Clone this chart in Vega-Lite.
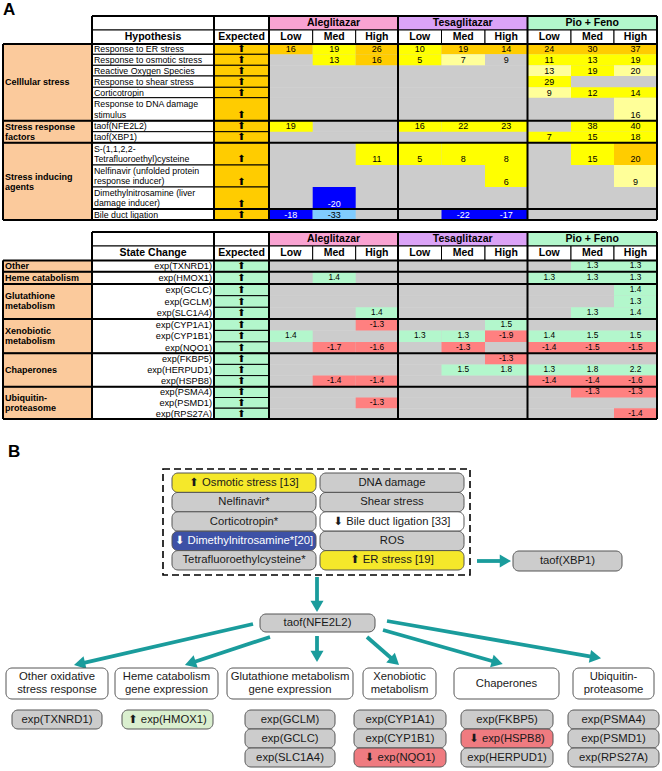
{
"$schema": "https://vega.github.io/schema/vega-lite/v6.json",
"width": 662, "height": 771,
"autosize": {"type": "fit", "contains": "padding"},
"padding": 0,
"background": "white",
"config": {"view": {"stroke": null}},
"datasets": {
"tbl": [
{"t":1,"gx0":3,"gx1":92,"hx0":92,"hx1":214,"ex0":214,"ex1":269,"exm":241.5,"dx0":269,"dx1":657},
{"t":2,"gx0":3,"gx1":92,"hx0":92,"hx1":214,"ex0":214,"ex1":269,"exm":241.5,"dx0":269,"dx1":657}
],
"cols": [
{"c":"AL","x0":269,"x1":312.7,"xm":290.85},
{"c":"AM","x0":312.7,"x1":355.7,"xm":334.2},
{"c":"AH","x0":355.7,"x1":398,"xm":376.85},
{"c":"TL","x0":398,"x1":441.5,"xm":419.75},
{"c":"TM","x0":441.5,"x1":485,"xm":463.25},
{"c":"TH","x0":485,"x1":527.5,"xm":506.25},
{"c":"PL","x0":527.5,"x1":571,"xm":549.25},
{"c":"PM","x0":571,"x1":614,"xm":592.5},
{"c":"PH","x0":614,"x1":657,"xm":635.5}
],
"rows": [
{"r":"ER","t":1,"y0":44,"y1":54.3,"yt":49.2,"ym":49.2,"lab":"Response to ER stress"},
{"r":"OSM","t":1,"y0":54.3,"y1":65.3,"yt":59.8,"ym":59.8,"lab":"Response to osmotic stress"},
{"r":"ROS","t":1,"y0":65.3,"y1":76,"yt":70.7,"ym":70.7,"lab":"Reactive Oxygen Species"},
{"r":"SHR","t":1,"y0":76,"y1":87.3,"yt":81.7,"ym":81.7,"lab":"Response to shear stress"},
{"r":"COR","t":1,"y0":87.3,"y1":97.7,"yt":92.5,"ym":92.5,"lab":"Corticotropin"},
{"r":"DNA","t":1,"y0":97.7,"y1":120.7,"yt":114.8,"ym":103.8,"lab":"Response to DNA damage\nstimulus"},
{"r":"NFE","t":1,"y0":120.7,"y1":131.7,"yt":126.2,"ym":126.2,"lab":"taof(NFE2L2)"},
{"r":"XBP","t":1,"y0":131.7,"y1":142.7,"yt":137.2,"ym":137.2,"lab":"taof(XBP1)"},
{"r":"TFE","t":1,"y0":142.7,"y1":165,"yt":159.3,"ym":148.5,"lab":"S-(1,1,2,2-\nTetrafluoroethyl)cysteine"},
{"r":"NEL","t":1,"y0":165,"y1":187,"yt":181.7,"ym":170.6,"lab":"Nelfinavir (unfolded protein\nresponse inducer)"},
{"r":"DMN","t":1,"y0":187,"y1":209,"yt":203.5,"ym":192.6,"lab":"Dimethylnitrosamine (liver\ndamage inducer)"},
{"r":"BDL","t":1,"y0":209,"y1":220,"yt":214.5,"ym":214.5,"lab":"Bile duct ligation"},
{"r":"TXN","t":2,"y0":260.5,"y1":271.7,"yt":266.1,"ym":266.1,"lab":"exp(TXNRD1)"},
{"r":"HMO","t":2,"y0":271.7,"y1":284,"yt":277.85,"ym":277.85,"lab":"exp(HMOX1)"},
{"r":"GCLC","t":2,"y0":284,"y1":295.7,"yt":289.85,"ym":289.85,"lab":"exp(GCLC)"},
{"r":"GCLM","t":2,"y0":295.7,"y1":307.3,"yt":301.5,"ym":301.5,"lab":"exp(GCLM)"},
{"r":"SLC","t":2,"y0":307.3,"y1":319,"yt":313.15,"ym":313.15,"lab":"exp(SLC1A4)"},
{"r":"CYA","t":2,"y0":319,"y1":330.4,"yt":324.7,"ym":324.7,"lab":"exp(CYP1A1)"},
{"r":"CYB","t":2,"y0":330.4,"y1":341.9,"yt":336.15,"ym":336.15,"lab":"exp(CYP1B1)"},
{"r":"NQO","t":2,"y0":341.9,"y1":353.3,"yt":347.6,"ym":347.6,"lab":"exp(NQO1)"},
{"r":"FKB","t":2,"y0":353.3,"y1":364.4,"yt":358.85,"ym":358.85,"lab":"exp(FKBP5)"},
{"r":"HER","t":2,"y0":364.4,"y1":375.6,"yt":370,"ym":370,"lab":"exp(HERPUD1)"},
{"r":"HSP","t":2,"y0":375.6,"y1":386.7,"yt":381.15,"ym":381.15,"lab":"exp(HSPB8)"},
{"r":"PSA","t":2,"y0":386.7,"y1":397.5,"yt":392.1,"ym":392.1,"lab":"exp(PSMA4)"},
{"r":"PSD","t":2,"y0":397.5,"y1":408.2,"yt":402.85,"ym":402.85,"lab":"exp(PSMD1)"},
{"r":"RPS","t":2,"y0":408.2,"y1":419,"yt":413.6,"ym":413.6,"lab":"exp(RPS27A)"}
],
"cells": [
{"r":"ER","c":"AL","v":"16","k":"gold"},{"r":"ER","c":"AM","v":"19","k":"yel"},{"r":"ER","c":"AH","v":"26","k":"gold"},
{"r":"ER","c":"TL","v":"10","k":"yel"},{"r":"ER","c":"TM","v":"19","k":"gold"},{"r":"ER","c":"TH","v":"14","k":"gold"},
{"r":"ER","c":"PL","v":"24","k":"gold"},{"r":"ER","c":"PM","v":"30","k":"gold"},{"r":"ER","c":"PH","v":"37","k":"gold"},
{"r":"OSM","c":"AM","v":"13","k":"yel"},{"r":"OSM","c":"AH","v":"16","k":"gold"},
{"r":"OSM","c":"TL","v":"5","k":"yel"},{"r":"OSM","c":"TM","v":"7","k":"lyel"},{"r":"OSM","c":"TH","v":"9","k":"gray"},
{"r":"OSM","c":"PL","v":"11","k":"yel"},{"r":"OSM","c":"PM","v":"13","k":"yel"},{"r":"OSM","c":"PH","v":"19","k":"yel"},
{"r":"ROS","c":"PL","v":"13","k":"lyel"},{"r":"ROS","c":"PM","v":"19","k":"yel"},{"r":"ROS","c":"PH","v":"20","k":"lyel"},
{"r":"SHR","c":"PL","v":"29","k":"yel"},
{"r":"COR","c":"PL","v":"9","k":"lyel"},{"r":"COR","c":"PM","v":"12","k":"yel"},{"r":"COR","c":"PH","v":"14","k":"yel"},
{"r":"DNA","c":"PH","v":"16","k":"lyel"},
{"r":"NFE","c":"AL","v":"19","k":"yel"},{"r":"NFE","c":"TL","v":"16","k":"yel"},{"r":"NFE","c":"TM","v":"22","k":"yel"},
{"r":"NFE","c":"TH","v":"23","k":"yel"},{"r":"NFE","c":"PM","v":"38","k":"yel"},{"r":"NFE","c":"PH","v":"40","k":"yel"},
{"r":"XBP","c":"PL","v":"7","k":"yel"},{"r":"XBP","c":"PM","v":"15","k":"yel"},{"r":"XBP","c":"PH","v":"18","k":"yel"},
{"r":"TFE","c":"AH","v":"11","k":"yel"},{"r":"TFE","c":"TL","v":"5","k":"yel"},{"r":"TFE","c":"TM","v":"8","k":"yel"},
{"r":"TFE","c":"TH","v":"8","k":"yel"},{"r":"TFE","c":"PM","v":"15","k":"yel"},{"r":"TFE","c":"PH","v":"20","k":"gold"},
{"r":"NEL","c":"TH","v":"6","k":"yel"},{"r":"NEL","c":"PH","v":"9","k":"lyel"},
{"r":"DMN","c":"AM","v":"-20","k":"blue"},
{"r":"BDL","c":"AL","v":"-18","k":"blue"},{"r":"BDL","c":"AM","v":"-33","k":"lblue"},
{"r":"BDL","c":"TM","v":"-22","k":"blue"},{"r":"BDL","c":"TH","v":"-17","k":"blue"},
{"r":"TXN","c":"PM","v":"1.3","k":"mint"},{"r":"TXN","c":"PH","v":"1.3","k":"mint"},
{"r":"HMO","c":"AM","v":"1.4","k":"mint"},{"r":"HMO","c":"PL","v":"1.3","k":"mint"},{"r":"HMO","c":"PM","v":"1.3","k":"mint"},{"r":"HMO","c":"PH","v":"1.3","k":"mint"},
{"r":"GCLC","c":"PH","v":"1.4","k":"mint"},
{"r":"GCLM","c":"PH","v":"1.3","k":"mint"},
{"r":"SLC","c":"AH","v":"1.4","k":"mint"},{"r":"SLC","c":"PM","v":"1.3","k":"mint"},{"r":"SLC","c":"PH","v":"1.4","k":"mint"},
{"r":"CYA","c":"AH","v":"-1.3","k":"red"},{"r":"CYA","c":"TH","v":"1.5","k":"mint"},
{"r":"CYB","c":"AL","v":"1.4","k":"mint"},{"r":"CYB","c":"TL","v":"1.3","k":"mint"},{"r":"CYB","c":"TM","v":"1.3","k":"mint"},
{"r":"CYB","c":"TH","v":"-1.9","k":"red"},{"r":"CYB","c":"PL","v":"1.4","k":"mint"},{"r":"CYB","c":"PM","v":"1.5","k":"mint"},{"r":"CYB","c":"PH","v":"1.5","k":"mint"},
{"r":"NQO","c":"AM","v":"-1.7","k":"red"},{"r":"NQO","c":"AH","v":"-1.6","k":"red"},{"r":"NQO","c":"TM","v":"-1.3","k":"red"},
{"r":"NQO","c":"PL","v":"-1.4","k":"red"},{"r":"NQO","c":"PM","v":"-1.5","k":"red"},{"r":"NQO","c":"PH","v":"-1.5","k":"red"},
{"r":"FKB","c":"TH","v":"-1.3","k":"red"},
{"r":"HER","c":"TM","v":"1.5","k":"mint"},{"r":"HER","c":"TH","v":"1.8","k":"mint"},{"r":"HER","c":"PL","v":"1.3","k":"mint"},
{"r":"HER","c":"PM","v":"1.8","k":"mint"},{"r":"HER","c":"PH","v":"2.2","k":"mint"},
{"r":"HSP","c":"AM","v":"-1.4","k":"red"},{"r":"HSP","c":"AH","v":"-1.4","k":"red"},{"r":"HSP","c":"PL","v":"-1.4","k":"red"},
{"r":"HSP","c":"PM","v":"-1.4","k":"red"},{"r":"HSP","c":"PH","v":"-1.6","k":"red"},
{"r":"PSA","c":"PM","v":"-1.3","k":"red"},{"r":"PSA","c":"PH","v":"-1.3","k":"red"},
{"r":"PSD","c":"AH","v":"-1.3","k":"red"},
{"r":"RPS","c":"PH","v":"-1.4","k":"red"}
],
"groups": [
{"t":1,"y0":44,"y1":120.7,"yt":82.4,"lab":"Celllular stress"},
{"t":1,"y0":120.7,"y1":142.7,"yt":126.7,"lab":"Stress response\nfactors"},
{"t":1,"y0":142.7,"y1":220,"yt":176.8,"lab":"Stress inducing\nagents"},
{"t":2,"y0":260.5,"y1":271.7,"yt":266.3,"lab":"Other"},
{"t":2,"y0":271.7,"y1":284,"yt":278,"lab":"Heme catabolism"},
{"t":2,"y0":284,"y1":319,"yt":295.8,"lab":"Glutathione\nmetabolism"},
{"t":2,"y0":319,"y1":353.3,"yt":330.8,"lab":"Xenobiotic\nmetabolism"},
{"t":2,"y0":353.3,"y1":386.7,"yt":370,"lab":"Chaperones"},
{"t":2,"y0":386.7,"y1":419,"yt":397.8,"lab":"Ubiquitin-\nproteasome"}
],
"heads": [
{"x0":92,"x1":214,"y0":16,"y1":30,"xm":153,"ym":23,"txt":"","k":"white"},
{"x0":214,"x1":269,"y0":16,"y1":30,"xm":241.5,"ym":23,"txt":"","k":"white"},
{"x0":269,"x1":398,"y0":16,"y1":30,"xm":333.5,"ym":23,"txt":"Aleglitazar","k":"pink"},
{"x0":398,"x1":527.5,"y0":16,"y1":30,"xm":462.75,"ym":23,"txt":"Tesaglitazar","k":"violet"},
{"x0":527.5,"x1":657,"y0":16,"y1":30,"xm":592.25,"ym":23,"txt":"Pio + Feno","k":"mint"},
{"x0":92,"x1":214,"y0":30,"y1":44,"xm":153,"ym":37,"txt":"Hypothesis","k":"white"},
{"x0":214,"x1":269,"y0":30,"y1":44,"xm":241.5,"ym":37,"txt":"Expected","k":"white"},
{"x0":269,"x1":312.7,"y0":30,"y1":44,"xm":290.85,"ym":37,"txt":"Low","k":"white"},
{"x0":312.7,"x1":355.7,"y0":30,"y1":44,"xm":334.2,"ym":37,"txt":"Med","k":"white"},
{"x0":355.7,"x1":398,"y0":30,"y1":44,"xm":376.85,"ym":37,"txt":"High","k":"white"},
{"x0":398,"x1":441.5,"y0":30,"y1":44,"xm":419.75,"ym":37,"txt":"Low","k":"white"},
{"x0":441.5,"x1":485,"y0":30,"y1":44,"xm":463.25,"ym":37,"txt":"Med","k":"white"},
{"x0":485,"x1":527.5,"y0":30,"y1":44,"xm":506.25,"ym":37,"txt":"High","k":"white"},
{"x0":527.5,"x1":571,"y0":30,"y1":44,"xm":549.25,"ym":37,"txt":"Low","k":"white"},
{"x0":571,"x1":614,"y0":30,"y1":44,"xm":592.5,"ym":37,"txt":"Med","k":"white"},
{"x0":614,"x1":657,"y0":30,"y1":44,"xm":635.5,"ym":37,"txt":"High","k":"white"},
{"x0":92,"x1":214,"y0":232,"y1":246,"xm":153,"ym":239,"txt":"","k":"white"},
{"x0":214,"x1":269,"y0":232,"y1":246,"xm":241.5,"ym":239,"txt":"","k":"white"},
{"x0":269,"x1":398,"y0":232,"y1":246,"xm":333.5,"ym":239,"txt":"Aleglitazar","k":"pink"},
{"x0":398,"x1":527.5,"y0":232,"y1":246,"xm":462.75,"ym":239,"txt":"Tesaglitazar","k":"violet"},
{"x0":527.5,"x1":657,"y0":232,"y1":246,"xm":592.25,"ym":239,"txt":"Pio + Feno","k":"mint"},
{"x0":92,"x1":214,"y0":246,"y1":260.5,"xm":153,"ym":253.3,"txt":"State Change","k":"white"},
{"x0":214,"x1":269,"y0":246,"y1":260.5,"xm":241.5,"ym":253.3,"txt":"Expected","k":"white"},
{"x0":269,"x1":312.7,"y0":246,"y1":260.5,"xm":290.85,"ym":253.3,"txt":"Low","k":"white"},
{"x0":312.7,"x1":355.7,"y0":246,"y1":260.5,"xm":334.2,"ym":253.3,"txt":"Med","k":"white"},
{"x0":355.7,"x1":398,"y0":246,"y1":260.5,"xm":376.85,"ym":253.3,"txt":"High","k":"white"},
{"x0":398,"x1":441.5,"y0":246,"y1":260.5,"xm":419.75,"ym":253.3,"txt":"Low","k":"white"},
{"x0":441.5,"x1":485,"y0":246,"y1":260.5,"xm":463.25,"ym":253.3,"txt":"Med","k":"white"},
{"x0":485,"x1":527.5,"y0":246,"y1":260.5,"xm":506.25,"ym":253.3,"txt":"High","k":"white"},
{"x0":527.5,"x1":571,"y0":246,"y1":260.5,"xm":549.25,"ym":253.3,"txt":"Low","k":"white"},
{"x0":571,"x1":614,"y0":246,"y1":260.5,"xm":592.5,"ym":253.3,"txt":"Med","k":"white"},
{"x0":614,"x1":657,"y0":246,"y1":260.5,"xm":635.5,"ym":253.3,"txt":"High","k":"white"}
],
"thick": [
{"x0":3,"y0":44,"x1":3,"y1":220},{"x0":92,"y0":16,"x1":92,"y1":220},{"x0":214,"y0":16,"x1":214,"y1":220},
{"x0":269,"y0":16,"x1":269,"y1":220},{"x0":398,"y0":16,"x1":398,"y1":220},{"x0":527.5,"y0":16,"x1":527.5,"y1":220},
{"x0":657,"y0":16,"x1":657,"y1":220},
{"x0":92,"y0":16,"x1":657,"y1":16},{"x0":3,"y0":44,"x1":657,"y1":44},{"x0":3,"y0":120.7,"x1":657,"y1":120.7},
{"x0":3,"y0":142.7,"x1":657,"y1":142.7},{"x0":92,"y0":209,"x1":657,"y1":209},{"x0":3,"y0":220,"x1":657,"y1":220},
{"x0":3,"y0":260.5,"x1":3,"y1":419},{"x0":92,"y0":232,"x1":92,"y1":419},{"x0":214,"y0":232,"x1":214,"y1":419},
{"x0":269,"y0":232,"x1":269,"y1":419},{"x0":398,"y0":232,"x1":398,"y1":419},{"x0":527.5,"y0":232,"x1":527.5,"y1":419},
{"x0":657,"y0":232,"x1":657,"y1":419},
{"x0":92,"y0":232,"x1":657,"y1":232},{"x0":3,"y0":260.5,"x1":657,"y1":260.5},{"x0":3,"y0":271.7,"x1":657,"y1":271.7},
{"x0":3,"y0":284,"x1":657,"y1":284},{"x0":3,"y0":319,"x1":657,"y1":319},{"x0":3,"y0":353.3,"x1":657,"y1":353.3},
{"x0":3,"y0":386.7,"x1":657,"y1":386.7},{"x0":3,"y0":419,"x1":657,"y1":419}
],
"panels": [{"txt":"A","x":3,"y":15},{"txt":"B","x":8,"y":457}],
"dash": [{"x0":163,"x1":470,"y0":469,"y1":575}],
"links": [
{"x0":317,"y0":577,"x1":317,"y1":606.4,"ang":180},
{"x0":477,"y0":561,"x1":505.4,"y1":561,"ang":90},
{"x0":253,"y0":624,"x1":79.5,"y1":663.8,"ang":257.1},
{"x0":270,"y0":637,"x1":190.3,"y1":663.2,"ang":251.8},
{"x0":317,"y0":636,"x1":317,"y1":656.4,"ang":180},
{"x0":367,"y0":637,"x1":394.8,"y1":661.3,"ang":131.2},
{"x0":383,"y0":630,"x1":497.3,"y1":662.5,"ang":105.8},
{"x0":387,"y0":621,"x1":595.5,"y1":657.4,"ang":99.8}
],
"nodes": [
{"x0":172,"x1":316,"y0":473,"y1":492.4,"xm":244,"ym":482.7,"txt":"⬆ Osmotic stress [13]","k":"byel"},
{"x0":172,"x1":316,"y0":492.4,"y1":511.8,"xm":244,"ym":502.1,"txt":"Nelfinavir*","k":"gray"},
{"x0":172,"x1":316,"y0":511.8,"y1":531.2,"xm":244,"ym":521.5,"txt":"Corticotropin*","k":"gray"},
{"x0":172,"x1":316,"y0":531.2,"y1":550.6,"xm":244,"ym":540.9,"txt":"⬇ Dimethylnitrosamine*[20]","k":"bblue"},
{"x0":172,"x1":316,"y0":550.6,"y1":570,"xm":244,"ym":560.3,"txt":"Tetrafluoroethylcysteine*","k":"gray"},
{"x0":320,"x1":464,"y0":473,"y1":492.4,"xm":392,"ym":482.7,"txt":"DNA damage","k":"gray"},
{"x0":320,"x1":464,"y0":492.4,"y1":511.8,"xm":392,"ym":502.1,"txt":"Shear stress","k":"gray"},
{"x0":320,"x1":464,"y0":511.8,"y1":531.2,"xm":392,"ym":521.5,"txt":"⬇ Bile duct ligation [33]","k":"white"},
{"x0":320,"x1":464,"y0":531.2,"y1":550.6,"xm":392,"ym":540.9,"txt":"ROS","k":"gray"},
{"x0":320,"x1":464,"y0":550.6,"y1":570,"xm":392,"ym":560.3,"txt":"⬆ ER stress [19]","k":"byel"},
{"x0":513,"x1":622,"y0":551,"y1":571,"xm":567.5,"ym":561,"txt":"taof(XBP1)","k":"gray"},
{"x0":260,"x1":375,"y0":614,"y1":632,"xm":317.5,"ym":623,"txt":"taof(NFE2L2)","k":"gray"},
{"x0":6,"x1":108,"y0":668,"y1":699,"xm":57,"ym":676.9,"txt":"Other oxidative\nstress response","k":"white"},
{"x0":115,"x1":218,"y0":668,"y1":699,"xm":166.5,"ym":676.9,"txt":"Heme catabolism\ngene expression","k":"white"},
{"x0":227,"x1":353,"y0":668,"y1":699,"xm":290,"ym":676.9,"txt":"Glutathione metabolism\ngene expression","k":"white"},
{"x0":363,"x1":436,"y0":668,"y1":699,"xm":399.5,"ym":676.9,"txt":"Xenobiotic\nmetabolism","k":"white"},
{"x0":454,"x1":559,"y0":668,"y1":699,"xm":506.5,"ym":683.5,"txt":"Chaperones","k":"white"},
{"x0":573,"x1":654,"y0":668,"y1":699,"xm":613.5,"ym":676.9,"txt":"Ubiquitin-\nproteasome","k":"white"},
{"x0":12,"x1":102,"y0":710,"y1":729,"xm":57,"ym":719.5,"txt":"exp(TXNRD1)","k":"gray"},
{"x0":122,"x1":213,"y0":710,"y1":729,"xm":167.5,"ym":719.5,"txt":"⬆ exp(HMOX1)","k":"bgreen"},
{"x0":245,"x1":335,"y0":710,"y1":729,"xm":290,"ym":719.5,"txt":"exp(GCLM)","k":"gray"},
{"x0":245,"x1":335,"y0":729,"y1":748,"xm":290,"ym":738.5,"txt":"exp(GCLC)","k":"gray"},
{"x0":245,"x1":335,"y0":748,"y1":767,"xm":290,"ym":757.5,"txt":"exp(SLC1A4)","k":"gray"},
{"x0":354,"x1":446,"y0":710,"y1":729,"xm":400,"ym":719.5,"txt":"exp(CYP1A1)","k":"gray"},
{"x0":354,"x1":446,"y0":729,"y1":748,"xm":400,"ym":738.5,"txt":"exp(CYP1B1)","k":"gray"},
{"x0":354,"x1":446,"y0":748,"y1":767,"xm":400,"ym":757.5,"txt":"⬇ exp(NQO1)","k":"bred"},
{"x0":461,"x1":553,"y0":710,"y1":729,"xm":507,"ym":719.5,"txt":"exp(FKBP5)","k":"gray"},
{"x0":461,"x1":553,"y0":729,"y1":748,"xm":507,"ym":738.5,"txt":"⬇ exp(HSPB8)","k":"bred"},
{"x0":461,"x1":553,"y0":748,"y1":767,"xm":507,"ym":757.5,"txt":"exp(HERPUD1)","k":"gray"},
{"x0":568,"x1":659,"y0":710,"y1":729,"xm":613.5,"ym":719.5,"txt":"exp(PSMA4)","k":"gray"},
{"x0":568,"x1":659,"y0":729,"y1":748,"xm":613.5,"ym":738.5,"txt":"exp(PSMD1)","k":"gray"},
{"x0":568,"x1":659,"y0":748,"y1":767,"xm":613.5,"ym":757.5,"txt":"exp(RPS27A)","k":"gray"}
]
},
"layer": [
{
"data": {"name": "rows"},
"transform": [{"lookup": "t", "from": {"data": {"name": "tbl"}, "key": "t", "fields": ["dx0","dx1","hx0","hx1","ex0","ex1","exm"]}}],
"layer": [
{"mark": {"type": "rect", "fill": "#cccccc", "stroke": "#cccccc", "strokeWidth": 0.5},
 "encoding": {
  "x": {"field": "dx0", "type": "quantitative", "scale": {"domain": [0,662], "nice": false, "zero": false}, "axis": null},
  "x2": {"field": "dx1"},
  "y": {"field": "y0", "type": "quantitative", "scale": {"domain": [0,771], "nice": false, "zero": false, "reverse": true}, "axis": null},
  "y2": {"field": "y1"}}}
]
},
{
"data": {"name": "cells"},
"transform": [
 {"lookup": "r", "from": {"data": {"name": "rows"}, "key": "r", "fields": ["y0","y1","yt","t"]}},
 {"lookup": "c", "from": {"data": {"name": "cols"}, "key": "c", "fields": ["x0","x1","xm"]}}
],
"layer": [
{"mark": {"type": "rect"},
 "encoding": {
  "x": {"field": "x0", "type": "quantitative", "scale": {"domain": [0,662], "nice": false, "zero": false}, "axis": null},
  "x2": {"field": "x1"},
  "y": {"field": "y0", "type": "quantitative", "scale": {"domain": [0,771], "nice": false, "zero": false, "reverse": true}, "axis": null},
  "y2": {"field": "y1"},
  "fill": {"field": "k", "type": "nominal", "legend": null, "scale": {"domain": ["peach","white","gold","mint","gray","yel","lyel","blue","lblue","red","pink","violet","byel","bblue","bgreen","bred"], "range": ["#fbca9c","#ffffff","#ffcc00","#b3f7cc","#cccccc","#ffff00","#ffff99","#0000ff","#80ccff","#ff8080","#f9a3d2","#dba3f7","#f5e82a","#3d51a6","#daefcf","#ef7b80"]}}}},
{"mark": {"type": "text", "font": "Liberation Sans", "align": "center", "baseline": "middle"},
 "encoding": {
  "x": {"field": "xm", "type": "quantitative", "scale": {"domain": [0,662], "nice": false, "zero": false}, "axis": null},
  "y": {"field": "yt", "type": "quantitative", "scale": {"domain": [0,771], "nice": false, "zero": false, "reverse": true}, "axis": null},
  "text": {"field": "v"},
  "size": {"condition": {"test": "datum.t === 2", "value": 8.3}, "value": 9},
  "color": {"condition": {"test": "datum.k === 'blue'", "value": "white"}, "value": "black"}}}
]
},
{
"data": {"name": "groups"},
"transform": [{"lookup": "t", "from": {"data": {"name": "tbl"}, "key": "t", "fields": ["gx0","gx1","hx0","hx1"]}}],
"layer": [
{"mark": {"type": "rect", "fill": "#fbca9c", "stroke": "black", "strokeWidth": 1},
 "encoding": {
  "x": {"field": "gx0", "type": "quantitative", "scale": {"domain": [0,662], "nice": false, "zero": false}, "axis": null},
  "x2": {"field": "gx1"},
  "y": {"field": "y0", "type": "quantitative", "scale": {"domain": [0,771], "nice": false, "zero": false, "reverse": true}, "axis": null},
  "y2": {"field": "y1"}}},
{"transform": [{"filter": "datum.t === 2"}],
 "mark": {"type": "rect", "fill": "white", "stroke": "black", "strokeWidth": 1},
 "encoding": {
  "x": {"field": "hx0", "type": "quantitative", "scale": {"domain": [0,662], "nice": false, "zero": false}, "axis": null},
  "x2": {"field": "hx1"},
  "y": {"field": "y0", "type": "quantitative", "scale": {"domain": [0,771], "nice": false, "zero": false, "reverse": true}, "axis": null},
  "y2": {"field": "y1"}}},
{"mark": {"type": "text", "font": "Liberation Sans", "fontWeight": "bold", "fontSize": 9, "align": "left", "baseline": "middle", "dx": 2, "lineBreak": "\n", "lineHeight": 10.5},
 "encoding": {
  "x": {"field": "gx0", "type": "quantitative", "scale": {"domain": [0,662], "nice": false, "zero": false}, "axis": null},
  "y": {"field": "yt", "type": "quantitative", "scale": {"domain": [0,771], "nice": false, "zero": false, "reverse": true}, "axis": null},
  "text": {"field": "lab"}}}
]
},
{
"data": {"name": "rows"},
"transform": [{"lookup": "t", "from": {"data": {"name": "tbl"}, "key": "t", "fields": ["dx0","dx1","hx0","hx1","ex0","ex1","exm"]}}],
"layer": [
{"transform": [{"filter": "datum.t === 1"}],
 "mark": {"type": "rect", "fill": "white", "stroke": "black", "strokeWidth": 1},
 "encoding": {
  "x": {"field": "hx0", "type": "quantitative", "scale": {"domain": [0,662], "nice": false, "zero": false}, "axis": null},
  "x2": {"field": "hx1"},
  "y": {"field": "y0", "type": "quantitative", "scale": {"domain": [0,771], "nice": false, "zero": false, "reverse": true}, "axis": null},
  "y2": {"field": "y1"}}},
{"mark": {"type": "rect", "stroke": "black", "strokeWidth": 1},
 "encoding": {
  "x": {"field": "ex0", "type": "quantitative", "scale": {"domain": [0,662], "nice": false, "zero": false}, "axis": null},
  "x2": {"field": "ex1"},
  "y": {"field": "y0", "type": "quantitative", "scale": {"domain": [0,771], "nice": false, "zero": false, "reverse": true}, "axis": null},
  "y2": {"field": "y1"},
  "fill": {"condition": {"test": "datum.t === 1", "value": "#ffcc00"}, "value": "#b3f7cc"}}},
{"transform": [{"filter": "datum.t === 1"}],
 "mark": {"type": "text", "font": "Liberation Sans", "fontSize": 8.8, "align": "left", "baseline": "middle", "dx": 2, "lineBreak": "\n", "lineHeight": 10.8},
 "encoding": {
  "x": {"field": "hx0", "type": "quantitative", "scale": {"domain": [0,662], "nice": false, "zero": false}, "axis": null},
  "y": {"field": "ym", "type": "quantitative", "scale": {"domain": [0,771], "nice": false, "zero": false, "reverse": true}, "axis": null},
  "text": {"field": "lab"}}},
{"transform": [{"filter": "datum.t === 2"}],
 "mark": {"type": "text", "font": "Liberation Sans", "fontSize": 9.2, "align": "right", "baseline": "middle", "dx": -2},
 "encoding": {
  "x": {"field": "hx1", "type": "quantitative", "scale": {"domain": [0,662], "nice": false, "zero": false}, "axis": null},
  "y": {"field": "yt", "type": "quantitative", "scale": {"domain": [0,771], "nice": false, "zero": false, "reverse": true}, "axis": null},
  "text": {"field": "lab"}}},
{"mark": {"type": "text", "font": "DejaVu Sans", "fontSize": 10, "align": "center", "baseline": "middle", "color": "black"},
 "encoding": {
  "x": {"field": "exm", "type": "quantitative", "scale": {"domain": [0,662], "nice": false, "zero": false}, "axis": null},
  "y": {"field": "yt", "type": "quantitative", "scale": {"domain": [0,771], "nice": false, "zero": false, "reverse": true}, "axis": null},
  "text": {"value": "⬆"}}}
]
},
{
"data": {"name": "heads"},
"layer": [
{"mark": {"type": "rect", "stroke": "black", "strokeWidth": 1},
 "encoding": {
  "x": {"field": "x0", "type": "quantitative", "scale": {"domain": [0,662], "nice": false, "zero": false}, "axis": null},
  "x2": {"field": "x1"},
  "y": {"field": "y0", "type": "quantitative", "scale": {"domain": [0,771], "nice": false, "zero": false, "reverse": true}, "axis": null},
  "y2": {"field": "y1"},
  "fill": {"field": "k", "type": "nominal", "legend": null, "scale": {"domain": ["peach","white","gold","mint","gray","yel","lyel","blue","lblue","red","pink","violet","byel","bblue","bgreen","bred"], "range": ["#fbca9c","#ffffff","#ffcc00","#b3f7cc","#cccccc","#ffff00","#ffff99","#0000ff","#80ccff","#ff8080","#f9a3d2","#dba3f7","#f5e82a","#3d51a6","#daefcf","#ef7b80"]}}}},
{"mark": {"type": "text", "font": "Liberation Sans", "fontWeight": "bold", "fontSize": 10.5, "align": "center", "baseline": "middle", "color": "black"},
 "encoding": {
  "x": {"field": "xm", "type": "quantitative", "scale": {"domain": [0,662], "nice": false, "zero": false}, "axis": null},
  "y": {"field": "ym", "type": "quantitative", "scale": {"domain": [0,771], "nice": false, "zero": false, "reverse": true}, "axis": null},
  "text": {"field": "txt"}}}
]
},
{
"data": {"name": "thick"},
"mark": {"type": "rule", "color": "black", "strokeWidth": 2},
"encoding": {
  "x": {"field": "x0", "type": "quantitative", "scale": {"domain": [0,662], "nice": false, "zero": false}, "axis": null},
  "x2": {"field": "x1"},
  "y": {"field": "y0", "type": "quantitative", "scale": {"domain": [0,771], "nice": false, "zero": false, "reverse": true}, "axis": null},
  "y2": {"field": "y1"}}
},
{
"data": {"name": "panels"},
"mark": {"type": "text", "font": "Liberation Sans", "fontWeight": "bold", "fontSize": 17, "align": "left", "baseline": "alphabetic", "color": "black"},
"encoding": {
  "x": {"field": "x", "type": "quantitative", "scale": {"domain": [0,662], "nice": false, "zero": false}, "axis": null},
  "y": {"field": "y", "type": "quantitative", "scale": {"domain": [0,771], "nice": false, "zero": false, "reverse": true}, "axis": null},
  "text": {"field": "txt"}}
},
{
"data": {"name": "dash"},
"mark": {"type": "rect", "fill": "white", "fillOpacity": 0, "stroke": "black", "strokeWidth": 1.6, "strokeDash": [7,4]},
"encoding": {
  "x": {"field": "x0", "type": "quantitative", "scale": {"domain": [0,662], "nice": false, "zero": false}, "axis": null},
  "x2": {"field": "x1"},
  "y": {"field": "y0", "type": "quantitative", "scale": {"domain": [0,771], "nice": false, "zero": false, "reverse": true}, "axis": null},
  "y2": {"field": "y1"}}
},
{
"data": {"name": "links"},
"layer": [
{"mark": {"type": "rule", "color": "#1a9c9c", "strokeWidth": 3.8},
 "encoding": {
  "x": {"field": "x0", "type": "quantitative", "scale": {"domain": [0,662], "nice": false, "zero": false}, "axis": null},
  "x2": {"field": "x1"},
  "y": {"field": "y0", "type": "quantitative", "scale": {"domain": [0,771], "nice": false, "zero": false, "reverse": true}, "axis": null},
  "y2": {"field": "y1"}}},
{"mark": {"type": "point", "shape": "triangle-up", "filled": true, "color": "#1a9c9c", "opacity": 1, "size": 170},
 "encoding": {
  "x": {"field": "x1", "type": "quantitative", "scale": {"domain": [0,662], "nice": false, "zero": false}, "axis": null},
  "y": {"field": "y1", "type": "quantitative", "scale": {"domain": [0,771], "nice": false, "zero": false, "reverse": true}, "axis": null},
  "angle": {"field": "ang", "type": "quantitative", "scale": null}}}
]
},
{
"data": {"name": "nodes"},
"layer": [
{"mark": {"type": "rect", "stroke": "#555555", "strokeWidth": 1, "cornerRadius": 6},
 "encoding": {
  "x": {"field": "x0", "type": "quantitative", "scale": {"domain": [0,662], "nice": false, "zero": false}, "axis": null},
  "x2": {"field": "x1"},
  "y": {"field": "y0", "type": "quantitative", "scale": {"domain": [0,771], "nice": false, "zero": false, "reverse": true}, "axis": null},
  "y2": {"field": "y1"},
  "fill": {"field": "k", "type": "nominal", "legend": null, "scale": {"domain": ["peach","white","gold","mint","gray","yel","lyel","blue","lblue","red","pink","violet","byel","bblue","bgreen","bred"], "range": ["#fbca9c","#ffffff","#ffcc00","#b3f7cc","#cccccc","#ffff00","#ffff99","#0000ff","#80ccff","#ff8080","#f9a3d2","#dba3f7","#f5e82a","#3d51a6","#daefcf","#ef7b80"]}}}},
{"mark": {"type": "text", "font": "Liberation Sans, DejaVu Sans", "fontSize": 11.3, "align": "center", "baseline": "middle", "lineBreak": "\n", "lineHeight": 13.3},
 "encoding": {
  "x": {"field": "xm", "type": "quantitative", "scale": {"domain": [0,662], "nice": false, "zero": false}, "axis": null},
  "y": {"field": "ym", "type": "quantitative", "scale": {"domain": [0,771], "nice": false, "zero": false, "reverse": true}, "axis": null},
  "text": {"field": "txt"},
  "color": {"condition": {"test": "datum.k === 'bblue'", "value": "white"}, "value": "#1a1a1a"}}}
]
}
]
}
